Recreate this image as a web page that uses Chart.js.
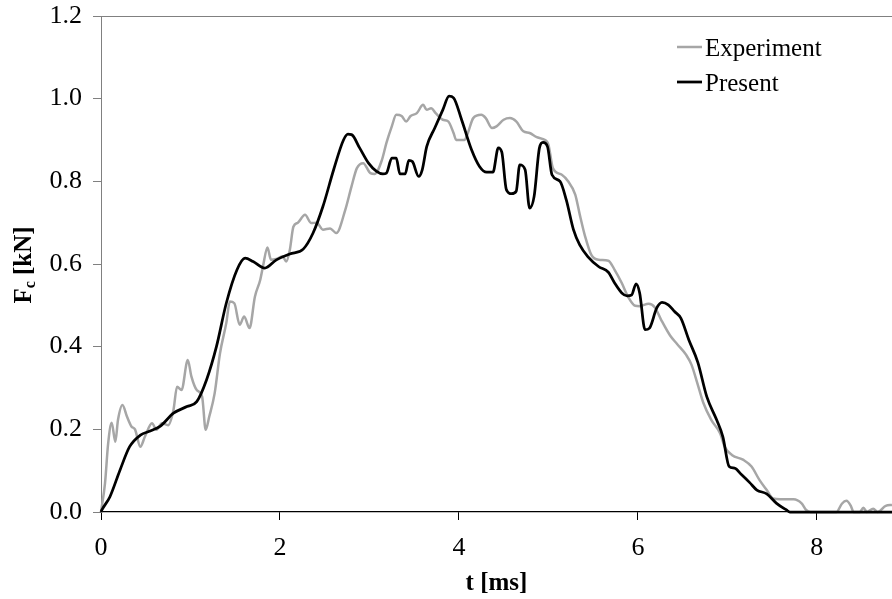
<!DOCTYPE html>
<html><head><meta charset="utf-8">
<script src="https://cdn.jsdelivr.net/npm/chart.js@4/dist/chart.umd.min.js"></script>
<style>html,body{margin:0;padding:0;background:#fff}#wrap{width:892px;height:599px;position:relative}</style>
</head><body><div id="wrap"><canvas id="c" width="892" height="599"></canvas></div>
<script>
const xTicks = [0, 2, 4, 6, 8];
const yTicks = [0, 0.2, 0.4, 0.6, 0.8, 1.0, 1.2];
const seriesNames = ['Experiment', 'Present'];

const expT = [0,0.045,0.08,0.12,0.16,0.19,0.24,0.29,0.34,0.38,0.44,0.49,0.57,0.62,0.68,0.75,0.81,0.85,0.90,0.97,1.01,1.07,1.13,1.17,1.21,1.27,1.33,1.40,1.44,1.49,1.55,1.60,1.66,1.72,1.78,1.81,1.86,1.90,1.96,2.03,2.07,2.11,2.15,2.20,2.28,2.35,2.41,2.48,2.56,2.63,2.73,2.80,2.86,2.93,3.01,3.06,3.14,3.19,3.25,3.30,3.36,3.41,3.46,3.53,3.60,3.64,3.69,3.74,3.82,3.88,3.94,3.97,4.06,4.10,4.16,4.25,4.30,4.37,4.42,4.50,4.57,4.64,4.72,4.79,4.87,4.94,5.00,5.05,5.15,5.22,5.30,5.35,5.41,5.48,5.56,5.67,5.74,5.82,5.89,5.97,6.02,6.12,6.19,6.26,6.36,6.44,6.54,6.60,6.66,6.73,6.82,6.92,6.97,7.05,7.18,7.27,7.36,7.44,7.51,7.59,7.74,7.83,7.88,7.93,8.22,8.28,8.33,8.38,8.41,8.48,8.52,8.56,8.63,8.68,8.77,8.84];
const expF = [0,0.07,0.166,0.216,0.17,0.223,0.259,0.231,0.207,0.20,0.158,0.182,0.215,0.199,0.215,0.21,0.247,0.303,0.295,0.368,0.328,0.295,0.279,0.199,0.231,0.287,0.384,0.457,0.509,0.505,0.453,0.473,0.445,0.521,0.562,0.594,0.64,0.61,0.612,0.618,0.606,0.634,0.69,0.70,0.719,0.699,0.70,0.683,0.686,0.675,0.731,0.788,0.832,0.844,0.82,0.818,0.852,0.893,0.933,0.961,0.958,0.945,0.958,0.965,0.985,0.973,0.977,0.965,0.949,0.945,0.917,0.90,0.90,0.917,0.953,0.961,0.953,0.929,0.933,0.949,0.953,0.945,0.921,0.917,0.907,0.902,0.889,0.832,0.816,0.80,0.768,0.72,0.667,0.622,0.61,0.608,0.586,0.554,0.521,0.499,0.498,0.504,0.495,0.465,0.427,0.406,0.38,0.356,0.315,0.265,0.223,0.19,0.158,0.138,0.126,0.11,0.077,0.053,0.033,0.031,0.031,0.021,0.005,0,0,0.02,0.027,0.015,0,0,0.01,0,0.008,0,0.015,0.017];

const preT = [0,0.01,0.1,0.21,0.32,0.44,0.55,0.66,0.81,0.96,1.07,1.18,1.29,1.40,1.52,1.61,1.70,1.83,1.96,2.11,2.26,2.37,2.48,2.60,2.71,2.76,2.80,2.89,2.99,3.08,3.15,3.19,3.25,3.30,3.34,3.40,3.44,3.48,3.55,3.59,3.64,3.73,3.82,3.89,3.94,4.03,4.14,4.23,4.31,4.38,4.44,4.48,4.53,4.59,4.64,4.68,4.74,4.79,4.84,4.90,4.94,4.99,5.04,5.13,5.20,5.28,5.35,5.44,5.56,5.67,5.74,5.82,5.88,5.93,5.98,6.02,6.08,6.13,6.21,6.27,6.34,6.41,6.48,6.57,6.67,6.77,6.88,6.95,7.02,7.08,7.16,7.25,7.33,7.44,7.55,7.66,7.70,8.84];
const preF = [0,0.005,0.037,0.10,0.158,0.186,0.196,0.207,0.239,0.255,0.267,0.32,0.40,0.505,0.586,0.614,0.606,0.59,0.61,0.624,0.636,0.675,0.739,0.828,0.90,0.914,0.913,0.881,0.844,0.824,0.818,0.82,0.856,0.856,0.818,0.818,0.851,0.848,0.812,0.828,0.884,0.929,0.973,1.006,1.002,0.949,0.877,0.836,0.822,0.822,0.881,0.870,0.78,0.770,0.776,0.840,0.828,0.735,0.763,0.881,0.894,0.884,0.816,0.80,0.755,0.683,0.646,0.618,0.594,0.58,0.554,0.53,0.523,0.525,0.552,0.53,0.441,0.445,0.493,0.507,0.501,0.485,0.469,0.416,0.362,0.279,0.223,0.182,0.11,0.106,0.09,0.071,0.053,0.044,0.021,0.005,0,0];

const toPts = (t, f) => t.map((v, i) => ({x: v, y: f[i]}));
const FONT = '"Liberation Serif", "Times New Roman", serif';

const legendPlugin = {
  id: 'customLegend',
  afterDraw(chart) {
    const ctx = chart.ctx;
    ctx.save();
    const items = [{ds: chart.data.datasets[0], y: 47}, {ds: chart.data.datasets[1], y: 82}];
    items.forEach(it => {
      ctx.strokeStyle = it.ds.borderColor;
      ctx.lineWidth = it.ds.borderWidth;
      ctx.beginPath(); ctx.moveTo(677, it.y); ctx.lineTo(702, it.y); ctx.stroke();
      ctx.fillStyle = '#000';
      ctx.font = '25px ' + FONT;
      ctx.textBaseline = 'alphabetic';
      ctx.textAlign = 'left';
      ctx.fillText(it.ds.label, 705, it.y + 8.5);
    });
    // y-axis title with subscript
    ctx.translate(31, 265);
    ctx.rotate(-Math.PI / 2);
    ctx.fillStyle = '#000';
    const big = 'bold 25px ' + FONT, small = 'bold 16px ' + FONT;
    ctx.font = big; const wF = ctx.measureText('F').width;
    ctx.font = small; const wc = ctx.measureText('c').width;
    ctx.font = big; const wr = ctx.measureText(' [kN]').width;
    let x0 = -(wF + wc + wr) / 2;
    ctx.textBaseline = 'alphabetic'; ctx.textAlign = 'left';
    ctx.font = big; ctx.fillText('F', x0, 0);
    ctx.font = small; ctx.fillText('c', x0 + wF, 4);
    ctx.font = big; ctx.fillText(' [kN]', x0 + wF + wc, 0);
    ctx.restore();
  }
};

new Chart(document.getElementById('c'), {
  type: 'scatter',
  data: {
    datasets: [
      {label: seriesNames[0], data: toPts(expT, expF), showLine: true, borderColor: '#a6a6a6', borderWidth: 2.5, pointRadius: 0, cubicInterpolationMode: 'monotone', order: 1, clip: false},
      {label: seriesNames[1], data: toPts(preT, preF), showLine: true, borderColor: '#000000', borderWidth: 2.75, pointRadius: 0, cubicInterpolationMode: 'monotone', order: 0, clip: false}
    ]
  },
  options: {
    responsive: false,
    animation: false,
    devicePixelRatio: 1,
    layout: {padding: {top: 16, right: 0, left: 0, bottom: 0}},
    plugins: {legend: {display: false}, tooltip: {enabled: false}},
    scales: {
      x: {
        type: 'linear', min: 0, max: 8.84,
        afterBuildTicks: s => { s.ticks = xTicks.map(v => ({value: v})); },
        afterFit: s => { s.height = 87; s.paddingLeft = 0; s.paddingRight = 0; },
        ticks: {font: {family: FONT, size: 26}, color: '#000', padding: 13, maxRotation: 0, callback: v => String(v)},
        grid: {drawOnChartArea: false, tickLength: 8, tickColor: '#000', lineWidth: 1},
        border: {color: '#000', width: 1.2},
        title: {display: true, text: 't [ms]', font: {family: FONT, size: 25, weight: 'bold'}, color: '#000', padding: {top: 0, bottom: 0}}
      },
      y: {
        type: 'linear', min: 0, max: 1.2,
        afterBuildTicks: s => { s.ticks = yTicks.map(v => ({value: v})); },
        afterFit: s => { s.width = 101; s.paddingTop = 0; s.paddingBottom = 0; },
        ticks: {font: {family: FONT, size: 26}, color: '#000', padding: 11, callback: v => v.toFixed(1)},
        grid: {
          drawOnChartArea: true, tickLength: 8, tickColor: '#808080', lineWidth: 1,
          color: c => (c.tick && Math.abs(c.tick.value - 1.2) < 1e-9) ? '#808080' : 'rgba(0,0,0,0)'
        },
        border: {color: '#808080', width: 1}
      }
    }
  },
  plugins: [legendPlugin]
});
</script>
</body></html>
